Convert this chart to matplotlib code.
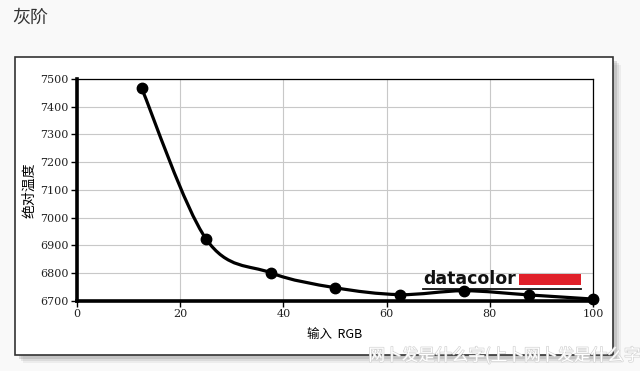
import matplotlib.pyplot as plt
import matplotlib.patheffects as pe
from matplotlib.patches import Rectangle, PathPatch
from matplotlib.path import Path
from matplotlib.lines import Line2D

# data
input_rgb = [12.5, 25, 37.5, 50, 62.5, 75, 87.5, 100]
color_temp = [7468, 6924, 6802, 6748, 6723, 6737, 6722, 6707]
x_ticks = [0, 20, 40, 60, 80, 100]
y_ticks = [6700, 6800, 6900, 7000, 7100, 7200, 7300, 7400, 7500]

cjk = ["Noto Sans CJK SC", "DejaVu Sans"]
serif = "DejaVu Serif"


def smooth_path(xs, ys):
    """Catmull-Rom curve through the points, as cubic bezier segments."""
    px = [xs[0]] + list(xs) + [xs[-1]]
    py = [ys[0]] + list(ys) + [ys[-1]]
    verts = [(xs[0], ys[0])]
    codes = [Path.MOVETO]
    for i in range(1, len(px) - 2):
        c1 = (px[i] + (px[i + 1] - px[i - 1]) / 6, py[i] + (py[i + 1] - py[i - 1]) / 6)
        c2 = (px[i + 1] - (px[i + 2] - px[i]) / 6, py[i + 1] - (py[i + 2] - py[i]) / 6)
        verts += [c1, c2, (px[i + 1], py[i + 1])]
        codes += [Path.CURVE4] * 3
    return Path(verts, codes)


fig = plt.figure(figsize=(6.4, 3.71), dpi=100)
fig.patch.set_facecolor("#f9f9f9")

W, H = 640, 371


def fx(px):
    return px / W


def fy(py):
    return 1 - py / H


# panel shadow and frame
for off, a in [(8, 0.10), (6, 0.15), (4, 0.25)]:
    fig.patches.append(Rectangle((fx(15 + off), fy(355 + off)), fx(598), (298) / H,
                                 transform=fig.transFigure, facecolor="#808080",
                                 edgecolor="none", alpha=a, zorder=0))
fig.patches.append(Rectangle((fx(15), fy(355)), fx(598), 298 / H,
                             transform=fig.transFigure, facecolor="white",
                             edgecolor="#333333", linewidth=1.2, zorder=1))

fig.text(fx(12), fy(18), "灰阶", family=cjk, fontsize=13, color="#333333",
         ha="left", va="center")

ax = fig.add_axes([fx(77), fy(301), 516 / W, 222 / H])
ax.set_zorder(2)
ax.set_facecolor("white")
ax.set_xlim(0, 100)
ax.set_ylim(6700, 7500)
ax.set_xticks(x_ticks)
ax.set_yticks(y_ticks)
ax.grid(True, color="#c8c8c8", linewidth=0.8)
ax.set_axisbelow(True)
ax.tick_params(direction="out", length=4, width=1, colors="black", pad=2)
for lab in ax.get_xticklabels() + ax.get_yticklabels():
    lab.set_family(serif)
    lab.set_fontsize(8)
    lab.set_color("#222222")
for s in ["left", "bottom"]:
    ax.spines[s].set_linewidth(2.6)
for s in ["top", "right"]:
    ax.spines[s].set_linewidth(0.9)

ax.set_ylabel("绝对温度", family=cjk, fontsize=10)
ax.yaxis.set_label_coords(-0.079, 0.5)
ax.set_xlabel("输入  RGB", family=cjk, fontsize=9, labelpad=6)

# datacolor logo
ax.text(0.671, 0.078, "datacolor", transform=ax.transAxes, family="DejaVu Sans",
        fontweight="bold", fontsize=12.5, color="#111111", ha="left", va="baseline",
        zorder=3)
ax.add_patch(Rectangle((0.856, 0.074), 0.121, 0.048, transform=ax.transAxes,
                       facecolor="#e0202a", edgecolor="none", zorder=3))
ax.add_line(Line2D([0.671, 0.977], [0.054, 0.054], transform=ax.transAxes,
                   color="#111111", linewidth=1.3, zorder=3))

ax.add_patch(PathPatch(smooth_path(input_rgb, color_temp), facecolor="none",
                       edgecolor="black", linewidth=2.3, zorder=4,
                       clip_on=False))
ax.plot(input_rgb, color_temp, linestyle="none", marker="o", markersize=7.5,
        color="black", zorder=5, clip_on=False)

# watermark
fig.text(fx(640), fy(356), "网卜发是什么字(上卜网卜发是什么字", family=cjk,
         fontsize=12, color="white", ha="right", va="center",
         path_effects=[pe.withStroke(linewidth=1.0, foreground="#d4d4d4")])

fig.savefig("out.png", dpi=100, facecolor=fig.get_facecolor())
